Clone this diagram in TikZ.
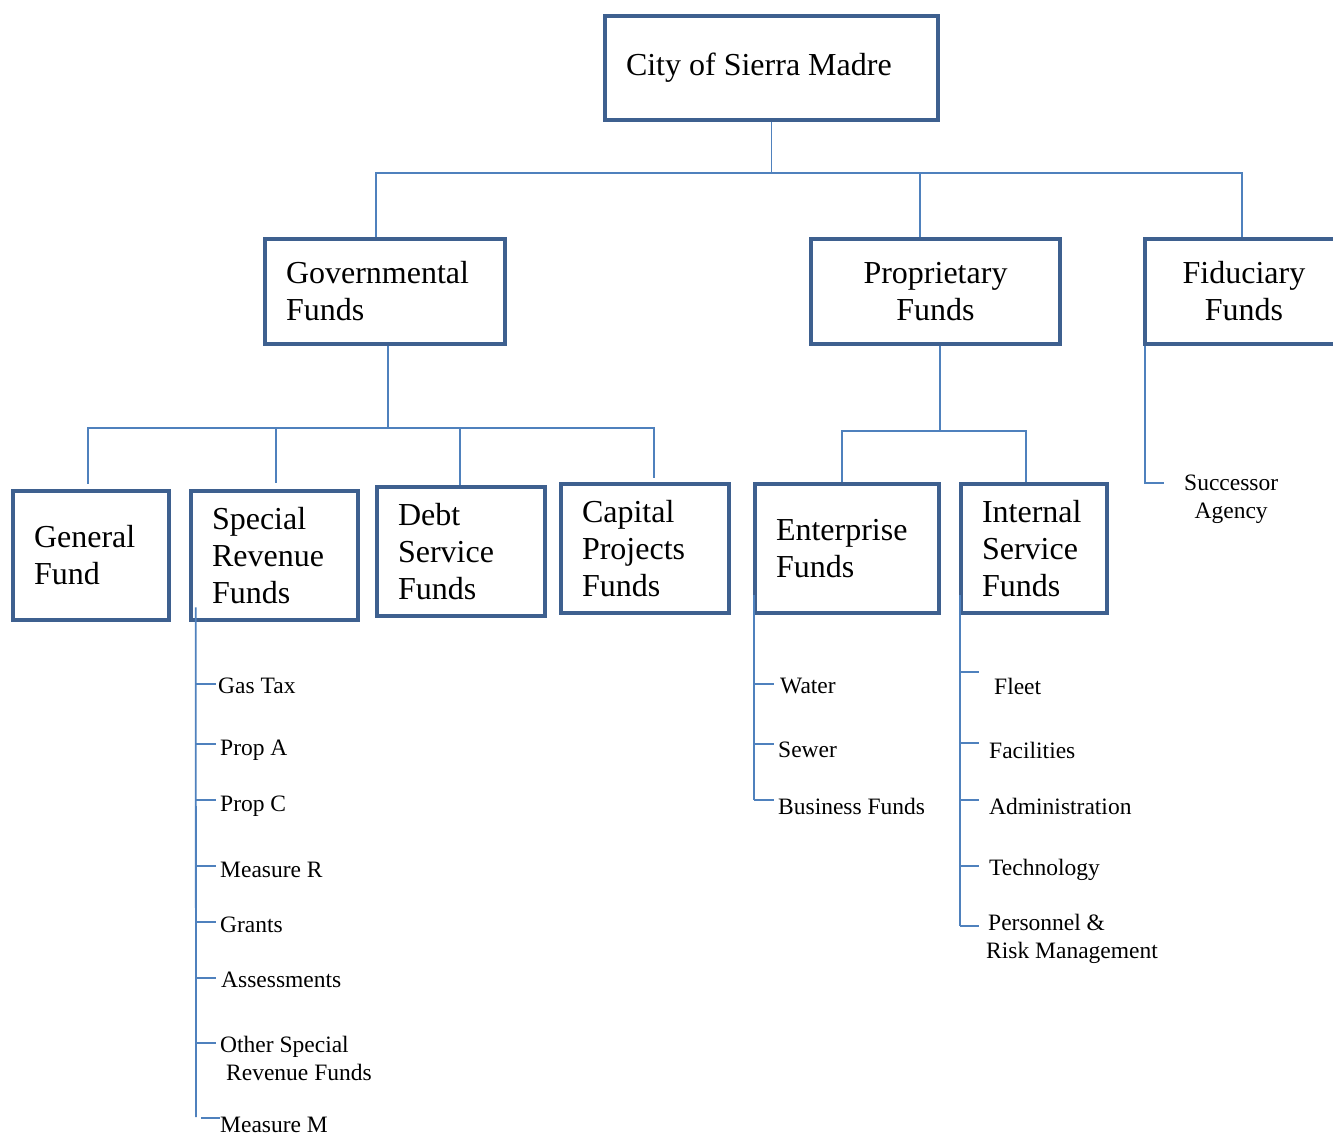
\documentclass[tikz,border=0pt]{standalone}
\usepackage{fontspec}
\setmainfont{Liberation Serif}
\definecolor{boxblue}{RGB}{62,96,143}
\definecolor{lineblue}{RGB}{79,129,189}

\begin{document}
\begin{tikzpicture}[x=1pt,y=-1pt,
    fund/.style={draw=boxblue, line width=4.5pt, rectangle, inner xsep=21pt, inner ysep=0pt, align=flush left, font=\fontsize{32}{37}\selectfont},
    leaf/.style={anchor=west, inner sep=0pt, align=flush left, font=\fontsize{23.5}{27.5}\selectfont},
    link/.style={draw=lineblue, line width=1.8pt}]
  \useasboundingbox (0,0) rectangle (1333,1135);

  % boxes
  \node[fund, text width=291, minimum height=104] (city) at (771.5,68) {City of Sierra Madre};
  \node[fund, text width=198, minimum height=105] (gov) at (385,291.5) {Governmental\\Funds};
  \node[fund, text width=207, minimum height=105, align=flush center] (prop) at (935.5,291.5) {Proprietary\\Funds};
  \node[fund, text width=156, minimum height=105, align=flush center] (fid) at (1244,291.5) {Fiduciary\\Funds};
  \node[fund, text width=114, minimum height=129] (gen) at (91,555.5) {General\\Fund};
  \node[fund, text width=125, minimum height=129] (spec) at (274.5,555.5) {Special\\Revenue\\Funds};
  \node[fund, text width=126, minimum height=129] (debt) at (461,551.5) {Debt\\Service\\Funds};
  \node[fund, text width=126, minimum height=129] (cap) at (645,548.5) {Capital\\Projects\\Funds};
  \node[fund, text width=142, minimum height=129] (ent) at (847,548.5) {Enterprise\\Funds};
  \node[fund, text width=104, minimum height=129] (int) at (1034,548.5) {Internal\\Service\\Funds};

  % top level
  \coordinate (busA) at (0,173);
  \draw[link] (city.south) -- (city.south |- busA);
  \draw[link] ([xshift=-9pt]gov.north) -- ([xshift=-9pt]gov.north |- busA) -- ([xshift=-2pt]fid.north |- busA) -- ([xshift=-2pt]fid.north);
  \draw[link] ([xshift=-15.5pt]prop.north) -- ([xshift=-15.5pt]prop.north |- busA);

  % governmental
  \coordinate (busB) at (0,428);
  \draw[link] ([xshift=3pt]gov.south) -- ([xshift=3pt]gov.south |- busB);
  \draw[link] ([xshift=-3pt,yshift=5pt]gen.north) -- ([xshift=-3pt]gen.north |- busB) -- ([xshift=9pt]cap.north |- busB) -- ([xshift=9pt,yshift=4pt]cap.north);
  \draw[link] ([xshift=1.5pt,yshift=6pt]spec.north) -- ([xshift=1.5pt]spec.north |- busB);
  \draw[link] ([xshift=-1pt]debt.north) -- ([xshift=-1pt]debt.north |- busB);

  % proprietary
  \coordinate (busC) at (0,431);
  \draw[link] ([xshift=4.5pt]prop.south) -- ([xshift=4.5pt]prop.south |- busC);
  \draw[link] ([xshift=-5pt]ent.north) -- ([xshift=-5pt]ent.north |- busC) -- ([xshift=-8pt]int.north |- busC) -- ([xshift=-8pt]int.north);

  % fiduciary
  \node[leaf, align=flush center] (succ) at (1184,499) {Successor\\Agency};
  \draw[link] ([xshift=2.25pt]fid.south west) |- ([xshift=-20pt,yshift=16pt]succ.west);

  % special revenue
  \node[leaf] (gas) at (218,686) {Gas Tax};
  \node[leaf] (propa) at (220,750) {Prop A};
  \node[leaf] (propc) at (220,806) {Prop C};
  \node[leaf] (msr) at (220,870) {Measure R};
  \node[leaf] (grants) at (220,925) {Grants};
  \node[leaf] (assess) at (221,980) {Assessments};
  \node[leaf] (other) at (220,1058.5) {Other Special\\\hspace{6pt}Revenue Funds};
  \node[leaf] (msm) at (220,1125) {Measure M};
  \coordinate (srend) at (196,1117);
  \draw[link] ([xshift=7pt,yshift=15pt]spec.south west) -- (srend);
  \draw[link] (srend |- 0,684) -- ([xshift=-2pt,yshift=2pt]gas.west);
  \draw[link] (srend |- 0,744) -- ([xshift=-4pt,yshift=6pt]propa.west);
  \draw[link] (srend |- 0,800) -- ([xshift=-4pt,yshift=6pt]propc.west);
  \draw[link] (srend |- 0,866) -- ([xshift=-4pt,yshift=4pt]msr.west);
  \draw[link] (srend |- 0,922) -- ([xshift=-4pt,yshift=3pt]grants.west);
  \draw[link] (srend |- 0,978) -- ([xshift=-5pt,yshift=2pt]assess.west);
  \draw[link] (srend |- 0,1043) -- ([xshift=-4pt,yshift=15.5pt]other.west);
  \draw[link] ([xshift=5pt]srend |- 0,1118) -- ([yshift=7pt]msm.west);

  % enterprise
  \node[leaf] (water) at (780,686) {Water};
  \node[leaf] (sewer) at (778,750) {Sewer};
  \node[leaf] (biz) at (778,806) {Business Funds};
  \coordinate (entend) at (754,800);
  \draw[link] ([xshift=1.25pt,yshift=20pt]ent.south west) -- (entend);
  \draw[link] (entend |- 0,684) -- ([xshift=-6pt,yshift=2pt]water.west);
  \draw[link] (entend |- 0,744) -- ([xshift=-4pt,yshift=6pt]sewer.west);
  \draw[link] (entend) -- ([xshift=-4pt,yshift=6pt]biz.west);

  % internal service
  \node[leaf] (fleet) at (994,686) {Fleet};
  \node[leaf] (facil) at (989,750) {Facilities};
  \node[leaf] (admin) at (989,806) {Administration};
  \node[leaf] (tech) at (989,870) {Technology};
  \node[leaf] (pers) at (986,939) {\hspace{2pt}Personnel \&\\Risk Management};
  \coordinate (intend) at (960,926);
  \draw[link] ([xshift=1.25pt,yshift=20pt]int.south west) -- (intend);
  \draw[link] (intend |- 0,672) -- ([xshift=-15pt,yshift=14pt]fleet.west);
  \draw[link] (intend |- 0,743) -- ([xshift=-10pt,yshift=7pt]facil.west);
  \draw[link] (intend |- 0,800) -- ([xshift=-10pt,yshift=6pt]admin.west);
  \draw[link] (intend |- 0,866) -- ([xshift=-10pt,yshift=4pt]tech.west);
  \draw[link] (intend) -- ([xshift=-7pt,yshift=13pt]pers.west);
\end{tikzpicture}
\end{document}
